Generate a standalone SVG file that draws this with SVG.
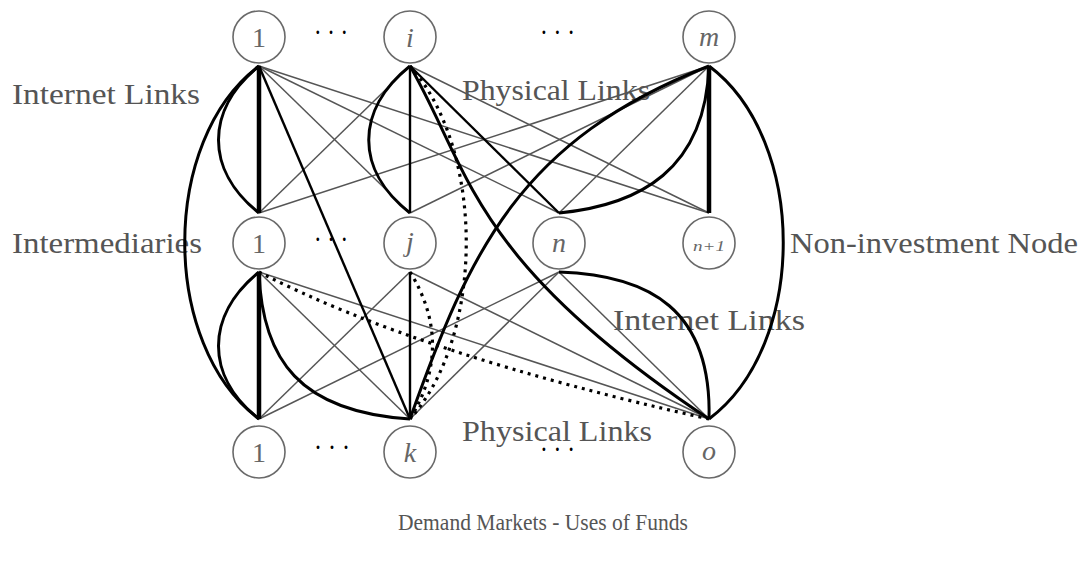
<svg xmlns="http://www.w3.org/2000/svg" width="1083" height="563" viewBox="0 0 1083 563">
<style>
.lbl{font-family:"Liberation Serif","Times New Roman",serif;font-size:30px;fill:#555}
.nl{font-family:"Liberation Serif","Times New Roman",serif;font-size:28px;fill:#666;text-anchor:middle}
.it{font-style:italic}
.dots{font-family:"Liberation Serif","Times New Roman",serif;font-size:30px;fill:#000}
.nc{fill:#fff;stroke:#6a6a6a;stroke-width:1.6}
.thin{fill:none;stroke:#555;stroke-width:1.5}
.med{fill:none;stroke:#000;stroke-width:2.4}
.thick{fill:none;stroke:#000;stroke-width:4.5}
.arc{fill:none;stroke:#000;stroke-width:3}
.dot{fill:none;stroke:#000;stroke-width:3.2;stroke-dasharray:3 5}
</style>
<rect width="1083" height="563" fill="#fff"/>
<g id="labels">
<text class="lbl" x="12" y="104" textLength="188" lengthAdjust="spacingAndGlyphs">Internet Links</text>
<text class="lbl" x="462" y="100" textLength="188" lengthAdjust="spacingAndGlyphs">Physical Links</text>
<text class="lbl" x="12" y="253" textLength="190" lengthAdjust="spacingAndGlyphs">Intermediaries</text>
<text class="lbl" x="790" y="253" textLength="288" lengthAdjust="spacingAndGlyphs">Non-investment Node</text>
<text class="lbl" x="613" y="330" textLength="192" lengthAdjust="spacingAndGlyphs">Internet Links</text>
<text class="lbl" x="462" y="441" textLength="190" lengthAdjust="spacingAndGlyphs">Physical Links</text>
<text class="lbl" x="398" y="530" style="font-size:23px" textLength="290" lengthAdjust="spacingAndGlyphs">Demand Markets - Uses of Funds</text>
<text class="dots" x="314" y="42" textLength="34" lengthAdjust="spacingAndGlyphs">· · ·</text>
<text class="dots" x="540" y="42" textLength="35" lengthAdjust="spacingAndGlyphs">· · ·</text>
<text class="dots" x="314" y="249" textLength="34" lengthAdjust="spacingAndGlyphs">· · ·</text>
<text class="dots" x="314" y="457" textLength="36" lengthAdjust="spacingAndGlyphs">· · ·</text>
<text class="dots" x="540" y="459" textLength="35" lengthAdjust="spacingAndGlyphs">· · ·</text>
</g>
<g id="connectors">
<path class="thin" d="M259,66 L410,213"/>
<path class="thin" d="M259,66 L559,213"/>
<path class="thin" d="M259,66 L709,213"/>
<path class="thin" d="M410,66 L259,213"/>
<path class="thin" d="M410,66 L709,213"/>
<path class="thin" d="M709,66 L259,213"/>
<path class="thin" d="M709,66 L410,213"/>
<path class="thin" d="M709,66 L559,213"/>
<path class="thin" d="M259,272 L410,419"/>
<path class="thin" d="M259,272 L709,419"/>
<path class="thin" d="M410,272 L259,419"/>
<path class="thin" d="M410,272 L709,419"/>
<path class="thin" d="M559,272 L259,419"/>
<path class="thin" d="M559,272 L410,419"/>
<path class="thin" d="M559,272 L709,419"/>
<path class="med" d="M259,66 L410,419"/>
<path class="med" d="M410,66 L410,213"/>
<path class="med" d="M410,272 L410,419"/>
<path class="med" d="M410,66 L559,213"/>
<path class="thick" d="M259,66 L259,213"/>
<path class="thick" d="M259,272 L259,419"/>
<path class="thick" d="M709,66 L709,213"/>
<path class="arc" d="M259,66 C205,110 205,170 259,213"/>
<path class="arc" d="M259,272 C205,316 205,376 259,419"/>
<path class="arc" d="M410,66 C355,110 355,170 410,213"/>
<path class="arc" d="M259,66 C160,140 160,345 259,419"/>
<path class="arc" d="M709,66 C808,140 808,345 709,419"/>
<path class="arc" d="M559,272 C650,275 712,310 709,419"/>
<path class="arc" d="M709,66 C705,170 640,205 559,213"/>
<path class="arc" d="M410,66 C470,170 470,260 709,419"/>
<path class="arc" d="M709,66 C520,140 470,250 410,419"/>
<path class="arc" d="M259,272 C262,360 300,412 410,419"/>
<path class="dot" d="M410,66 C485,150 485,335 410,419"/>
<path class="dot" d="M259,272 Q420,355 709,419"/>
<path class="dot" d="M410,272 C440,320 440,370 410,419"/>
</g>
<g id="src-1"><circle class="nc" cx="259" cy="37" r="26"/><text class="nl" x="259" y="47">1</text></g>
<g id="src-i"><circle class="nc" cx="410" cy="37" r="26"/><text class="nl it" x="410" y="47">i</text></g>
<g id="src-m"><circle class="nc" cx="709" cy="37" r="26"/><text class="nl it" x="709" y="46">m</text></g>
<g id="int-1"><circle class="nc" cx="259" cy="243" r="26"/><text class="nl" x="259" y="253">1</text></g>
<g id="int-j"><circle class="nc" cx="410" cy="243" r="26"/><text class="nl it" x="410" y="251">j</text></g>
<g id="int-n"><circle class="nc" cx="559" cy="243" r="26"/><text class="nl it" x="559" y="252">n</text></g>
<g id="int-n1"><circle class="nc" cx="709" cy="243" r="26"/><text class="nl it" x="709" y="251" style="font-size:14px" textLength="32" lengthAdjust="spacingAndGlyphs">n+1</text></g>
<g id="dem-1"><circle class="nc" cx="259" cy="452" r="26"/><text class="nl" x="259" y="462">1</text></g>
<g id="dem-k"><circle class="nc" cx="410" cy="452" r="26"/><text class="nl it" x="410" y="462">k</text></g>
<g id="dem-o"><circle class="nc" cx="709" cy="452" r="26"/><text class="nl it" x="709" y="460">o</text></g>
</svg>
